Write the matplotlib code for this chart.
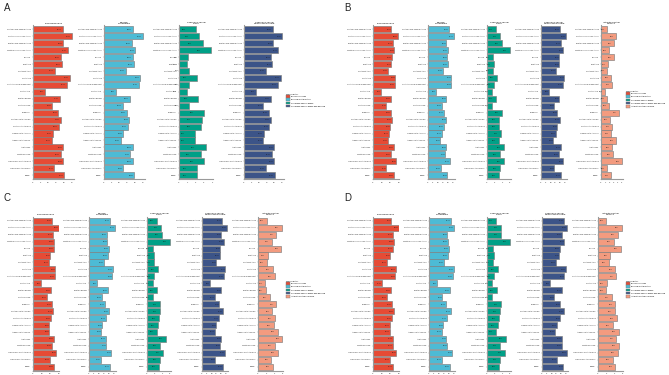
import matplotlib
matplotlib.use('Agg')
import matplotlib.pyplot as plt
from matplotlib.patches import Patch

W, H = 669, 375
fig = plt.figure(figsize=(W / 100, H / 100), dpi=100)
plt.rcParams['font.family'] = ['Liberation Sans', 'DejaVu Sans']

regions = [
    "Southern Sub-Saharan Africa", "Central Sub-Saharan Africa", "Eastern Sub-Saharan Africa",
    "Western Sub-Saharan Africa", "Oceania", "East Asia", "Southeast Asia", "South Asia",
    "North Africa and Middle East", "Central Asia", "Eastern Europe", "Central Europe",
    "Caribbean", "Southern Latin America", "Central Latin America", "Tropical Latin America",
    "Andean Latin America", "Australasia", "Western Europe", "High-income North America",
    "High-income Asia Pacific", "Global",
]

risk_factors = ["Behavioral risks", "Bullying victimization", "Childhood sexual abuse",
                "Childhood sexual abuse and bullying", "Intimate partner violence"]
titles = ["Behavioral risks", "Bullying\nvictimization", "Childhood sexual\nabuse",
          "Childhood sexual\nabuse and bullying", "Intimate partner\nviolence"]
colors = ["#E64B35", "#4DBBD5", "#00A087", "#3C5488", "#F39B7F"]

# ---------------- Panel A ----------------
a_behavioral = [19.1, 25.0, 19.6, 22.4, 18.0, 18.5, 14.1, 23.9, 21.7, 8.0, 17.4, 12.6, 16.3, 17.8, 16.5, 13.0, 12.2, 19.6, 18.0, 19.6, 13.7, 20.2]
a_bullying = [18.5, 25.0, 18.0, 20.2, 18.5, 19.1, 14.3, 23.5, 22.4, 7.6, 16.5, 12.2, 14.8, 16.3, 15.2, 12.6, 10.9, 18.5, 17.0, 18.5, 12.6, 19.6]
a_csa = [2.04, 2.44, 2.84, 3.84, 1.04, 1.00, 1.24, 2.20, 1.24, 0.98, 2.28, 1.24, 3.00, 2.72, 2.64, 1.96, 1.96, 3.20, 2.60, 3.00, 2.20, 2.20]
a_csa_bullying = [18.9, 25.3, 19.3, 22.7, 18.2, 18.7, 14.4, 24.2, 22.2, 8.2, 17.6, 12.7, 16.4, 17.6, 16.7, 13.3, 12.7, 20.0, 18.4, 20.0, 14.4, 20.4]

# ---------------- Panel B ----------------
b_behavioral = [21.2, 28.8, 23.1, 24.6, 21.9, 21.2, 17.3, 25.8, 25.0, 9.2, 20.8, 15.4, 20.8, 21.9, 20.0, 18.1, 17.3, 23.8, 20.8, 26.9, 15.4, 23.8]
b_bullying = [21.0, 25.7, 18.3, 20.0, 19.3, 20.0, 15.0, 23.3, 23.3, 8.3, 18.3, 14.0, 15.7, 18.3, 16.0, 13.7, 12.3, 18.3, 17.3, 21.7, 13.0, 19.3]
b_csa = [2.43, 3.48, 3.91, 6.09, 1.57, 1.74, 1.57, 2.61, 1.83, 1.30, 2.43, 1.30, 3.91, 3.22, 3.04, 3.74, 3.04, 4.52, 3.30, 4.35, 3.30, 3.04]
b_csa_bullying = [19.7, 25.9, 20.7, 23.1, 19.0, 19.0, 15.2, 24.1, 22.4, 8.6, 19.0, 13.8, 16.9, 19.7, 16.9, 15.5, 12.8, 20.7, 18.3, 23.1, 13.8, 20.7]
b_ipv = [1.38, 3.58, 3.25, 2.03, 3.25, 1.79, 1.38, 2.36, 2.76, 0.98, 1.54, 2.03, 4.47, 2.20, 2.76, 2.44, 3.58, 2.60, 3.01, 5.04, 1.54, 2.44]

# ---------------- Panel C ----------------
c_behavioral = [21.9, 29.6, 23.1, 23.8, 23.8, 20.0, 18.1, 25.8, 25.0, 9.6, 20.8, 16.2, 21.9, 23.1, 20.8, 18.8, 18.8, 23.8, 21.9, 26.9, 19.2, 23.8]
c_bullying = [20.7, 25.7, 18.0, 18.3, 20.0, 19.0, 15.0, 24.0, 23.3, 8.0, 19.0, 13.0, 15.7, 20.0, 16.7, 13.3, 12.3, 16.7, 17.3, 22.3, 11.7, 20.7]
c_csa = [2.61, 3.74, 3.91, 6.09, 1.57, 1.91, 1.74, 2.87, 1.83, 1.48, 2.61, 1.57, 3.48, 3.48, 3.04, 2.87, 2.61, 4.96, 3.30, 4.17, 3.30, 3.22]
c_csa_bullying = [20.7, 25.9, 20.0, 22.4, 19.0, 18.3, 14.8, 24.1, 22.4, 7.9, 20.0, 13.1, 17.9, 21.4, 17.2, 14.8, 13.1, 20.0, 19.0, 23.4, 13.8, 21.4]
c_ipv = [2.20, 5.85, 4.47, 3.41, 5.69, 2.44, 2.20, 3.66, 4.07, 1.79, 1.87, 2.85, 4.47, 3.50, 4.07, 3.90, 4.88, 5.93, 4.07, 4.88, 3.25, 3.66]

# ---------------- Panel D ----------------
d_behavioral = [21.2, 29.6, 23.1, 23.8, 23.1, 20.0, 16.2, 26.5, 25.8, 10.4, 20.8, 16.2, 21.9, 23.8, 21.9, 19.2, 19.2, 22.7, 23.1, 26.9, 19.2, 23.1]
d_bullying = [21.7, 25.0, 18.3, 19.0, 20.0, 19.0, 15.0, 25.0, 24.0, 8.3, 21.0, 13.3, 16.7, 21.7, 17.7, 14.3, 12.7, 17.3, 18.3, 23.3, 12.7, 21.0]
d_csa = [2.43, 3.74, 3.74, 6.09, 1.48, 1.74, 1.48, 2.87, 1.91, 1.30, 2.61, 1.30, 3.74, 3.48, 3.04, 2.96, 2.43, 4.96, 3.48, 4.78, 3.48, 3.04]
d_csa_bullying = [22.4, 25.9, 20.3, 23.1, 18.6, 17.9, 14.5, 24.8, 23.1, 8.3, 20.7, 12.8, 19.0, 22.4, 19.0, 15.5, 13.4, 20.3, 20.3, 25.5, 15.2, 22.1]
d_ipv = [2.03, 5.85, 4.80, 3.82, 5.61, 3.01, 2.60, 4.23, 4.47, 2.20, 2.03, 3.41, 4.23, 4.07, 4.63, 3.66, 5.04, 4.47, 5.04, 4.80, 3.66, 4.23]

EDGE = "#7d7d7d"
AXC = "#9a9a9a"


def bar_panel(left, top, bottom, width, xmax, values, ci, ticks, off):
    ax = fig.add_axes([left / W, 1 - bottom / H, width / W, (bottom - top) / H])
    n = len(regions)
    y = list(range(n))
    ax.barh(y, values, height=0.88, color=colors[ci], edgecolor=EDGE, linewidth=0.45)
    ax.set_ylim(n - 0.45, -0.55)
    ax.set_xlim(0, xmax)
    ax.set_yticks(y)
    ax.set_yticklabels(regions, fontsize=1.35, color="#333333")
    ax.set_xticks(ticks)
    ax.set_xticklabels([str(t) for t in ticks], fontsize=1.6, color="#333333")
    ax.tick_params(axis='both', length=1.0, width=0.3, pad=0.8, color=AXC)
    for s in ['top', 'right']:
        ax.spines[s].set_visible(False)
    for s in ['left', 'bottom']:
        ax.spines[s].set_color(AXC)
        ax.spines[s].set_linewidth(0.8)
    ax.set_facecolor('none')
    ax.set_title(titles[ci], fontsize=1.7, pad=1.2, linespacing=1.0)
    for yi, v in zip(y, values):
        ax.text(v - off, yi, f"{v:.2f}", fontsize=1.4, ha='center', va='center',
                color='#111111', clip_on=False)
    return ax


def legend_at(x, y, nitems):
    handles = [Patch(facecolor=colors[i], edgecolor=EDGE, linewidth=0.3, label=risk_factors[i])
               for i in range(nitems)]
    fig.legend(handles=handles, loc='upper left', bbox_to_anchor=(x / W, 1 - y / H),
               title="Risk Factor", fontsize=1.5, title_fontsize=1.7, frameon=False,
               handlelength=1.6, handleheight=1.6, labelspacing=0.25, handletextpad=0.6,
               borderpad=0.2, alignment='left')


# Panel A (top-left)
topA, botA = 25.5, 179
bar_panel(33, topA, botA, 41, 26.5, a_behavioral, 0, [0, 5, 10, 15, 20, 25], 2.3)
bar_panel(104, topA, botA, 41, 26.5, a_bullying, 1, [0, 5, 10, 15, 20, 25], 2.3)
bar_panel(179, topA, botA, 34, 4.1, a_csa, 2, [0, 1, 2, 3, 4], 1.5)
bar_panel(244, topA, botA, 40, 26.5, a_csa_bullying, 3, [0, 5, 10, 15, 20, 25], 2.3)
legend_at(285, 92, 4)

# Panel B (top-right)
bar_panel(373, topA, botA, 26, 30, b_behavioral, 0, [0, 10, 20, 30], 2.8)
bar_panel(428, topA, botA, 26.5, 26.5, b_bullying, 1, [0, 5, 10, 15, 20, 25], 2.5)
bar_panel(487, topA, botA, 24, 6.3, b_csa, 2, [0, 2, 4, 6], 1.4)
bar_panel(541, topA, botA, 25.5, 26.5, b_csa_bullying, 3, [0, 5, 10, 15, 20, 25], 2.5)
bar_panel(601, topA, botA, 21.5, 5.2, b_ipv, 4, [0, 1, 2, 3, 4, 5], 1.1)
legend_at(625, 89, 5)

# Panel C (bottom-left)
topC, botC = 217, 370.5
bar_panel(33, topC, botC, 26, 30, c_behavioral, 0, [0, 10, 20, 30], 2.8)
bar_panel(89, topC, botC, 26.5, 26.5, c_bullying, 1, [0, 5, 10, 15, 20, 25], 2.5)
bar_panel(147, topC, botC, 24, 6.3, c_csa, 2, [0, 2, 4, 6], 1.4)
bar_panel(202, topC, botC, 25.5, 26.5, c_csa_bullying, 3, [0, 5, 10, 15, 20, 25], 2.5)
bar_panel(258, topC, botC, 25, 6.1, c_ipv, 4, [0, 2, 4, 6], 1.2)
legend_at(285, 279, 5)

# Panel D (bottom-right)
bar_panel(373, topC, botC, 26, 30, d_behavioral, 0, [0, 10, 20, 30], 2.8)
bar_panel(429, topC, botC, 26.5, 26.5, d_bullying, 1, [0, 5, 10, 15, 20, 25], 2.5)
bar_panel(487, topC, botC, 24, 6.3, d_csa, 2, [0, 2, 4, 6], 1.4)
bar_panel(542, topC, botC, 25.5, 26.5, d_csa_bullying, 3, [0, 5, 10, 15, 20, 25], 2.5)
bar_panel(598, topC, botC, 25, 6.1, d_ipv, 4, [0, 2, 4, 6], 1.2)
legend_at(625, 279, 5)

# panel letters
for letter, (px, py) in {"A": (4, 8), "B": (344, 8), "C": (4, 198), "D": (344, 198)}.items():
    fig.text(px / W, 1 - py / H, letter, fontsize=7, ha='left', va='center', color='#222222')

fig.savefig("out.png", dpi=100, facecolor='white')
